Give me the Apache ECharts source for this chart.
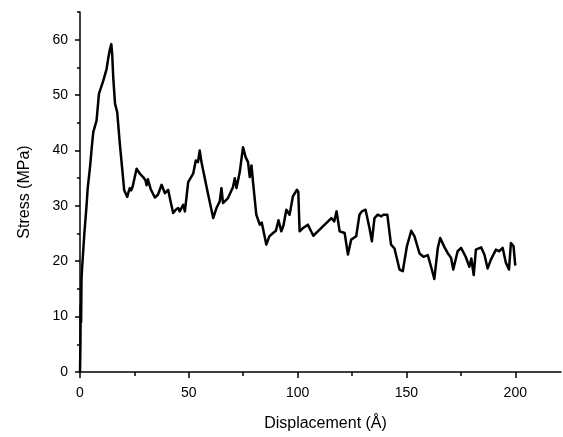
<!DOCTYPE html>
<html>
<head>
<meta charset="utf-8">
<script src="https://cdn.jsdelivr.net/npm/echarts@6/dist/echarts.min.js"></script>
<style>
html,body{margin:0;padding:0;background:#fff;}
#chart{width:563px;height:437px;}
</style>
</head>
<body>
<div id="chart"></div>
<script>
// Displacement (Å)
const displacement = [0,0.2,0.3,0.5,0.7,1,1.5,2,3,3.5,4.6,5.7,6.1,7.6,8.2,8.7,10.7,12.2,13,13.6,14.1,14.4,14.8,15.3,16.1,17.1,18.3,19.6,20.3,21.7,22.3,22.9,23.5,24.2,26,27.5,28.3,29,30.1,30.6,31.2,32.5,34.4,35.8,37.5,39,40.5,41.5,42.8,44,45.1,45.8,46.5,47.4,48.2,49.7,52,53.2,54.2,55,55.8,56.6,58.9,61.2,62.7,64.2,65,65.7,68,70.3,71.1,71.9,73.4,74.9,76.1,77.2,78,78.8,79.5,81,81.8,82.6,83.5,85.6,87,88.7,90,91.2,92.5,93.5,94.8,96.3,97.8,99.7,100.3,100.9,102.5,104.7,105.5,107.2,109.5,111.6,113.5,115.5,116.8,117.9,119.3,121.6,123.1,124.6,126.9,128.4,129.5,130,131.2,133,134.1,135.3,136.8,138.4,139.4,141.2,142.9,144.5,146.8,148.3,150.2,152.2,153.7,156,157.8,159.8,161.3,162.8,164.4,165.5,167.5,168.9,170.5,171.5,173.5,175.1,177.2,178.9,179.8,180.9,181.9,184.3,185.8,187.3,188.8,191.1,192.6,194.2,195.7,197.1,198,199.2,200];
// Stress (MPa)
const stress = [0,5,12,9,17,19,22,25,30,33,37,41.8,43.3,45.4,48,50.2,52.6,54.7,56.7,58,58.8,59.2,57.3,53,48.4,46.9,41.2,35.8,32.8,31.6,32.5,33.2,32.8,33.5,36.7,35.8,35.8,35.2,34.6,33.7,34.8,33,31.5,32,33.8,32.3,32.9,31,28.7,29.3,29.6,29,29.3,30.2,29,34.3,35.8,38.2,37.9,40,37.9,37.6,32,27.8,29.6,30.8,33.2,30.5,31.4,33.4,35,33.2,36.1,40.6,38.8,37.9,35.2,37.3,34.3,28.4,27.5,26.6,27,23,24.5,25.1,25.5,27.4,25.4,26.5,29.3,28.4,31.7,32.9,32.5,25.4,26,26.6,26.3,24.6,25.5,26.3,27,27.8,27.2,29,25.4,25.1,21.2,23.9,24.5,28.4,29,29.2,29.3,26,23.6,27.8,28.4,28.1,28.4,28.4,23,22.3,18.5,18.2,22.7,25.5,24.5,21.4,20.8,21.1,19,16.8,22.4,24.2,22.5,21.5,20.6,18.5,21.8,22.4,20.8,19,20.5,17.5,22.1,22.5,21.2,18.7,20.3,22.1,21.8,22.4,19.7,18.5,23.3,22.7,19.2];
// Tick values
const xTicks = [0,50,100,150,200];
const xMinorTicks = [25,75,125,175];
const yTicks = [0,10,20,30,40,50,60];
const yMinorTicks = [5,15,25,35,45,55,65];

const points = displacement.map((x,i)=>[x, stress[i]]);
const font = '"Liberation Sans", Arial, sans-serif';
const X_MIN = 0, X_MAX = 221, Y_MIN = 0, Y_MAX = 65;

const chart = echarts.init(document.getElementById('chart'), null, {renderer:'canvas'});
const lineStyle = {color:'#000', width:1.5};
chart.setOption({
  animation:false,
  backgroundColor:'#fff',
  grid:{left:80, right:2, top:12, bottom:62, containLabel:false},
  xAxis:[{
    type:'value', min:X_MIN, max:X_MAX,
    name:'Displacement (Å)', nameLocation:'middle', nameGap:44,
    nameTextStyle:{fontFamily:font, fontSize:16, color:'#000', padding:[0,0,0,10]},
    axisLine:{show:true, onZero:false, lineStyle:lineStyle},
    axisTick:{show:true, inside:false, length:6, lineStyle:lineStyle, customValues:xTicks},
    axisLabel:{show:true, margin:14, fontFamily:font, fontSize:14, color:'#000', customValues:xTicks},
    splitLine:{show:false}
  },{
    type:'value', min:X_MIN, max:X_MAX, position:'bottom',
    axisLine:{show:false},
    axisTick:{show:true, inside:false, length:4, lineStyle:lineStyle, customValues:xMinorTicks},
    axisLabel:{show:false},
    splitLine:{show:false}
  }],
  yAxis:[{
    type:'value', min:Y_MIN, max:Y_MAX,
    name:'Stress (MPa)', nameLocation:'middle', nameGap:47,
    nameTextStyle:{fontFamily:font, fontSize:16, color:'#000'},
    axisLine:{show:true, onZero:false, lineStyle:lineStyle},
    axisTick:{show:true, inside:false, length:5, lineStyle:lineStyle, customValues:yTicks},
    axisLabel:{show:true, margin:12, fontFamily:font, fontSize:14, color:'#000', customValues:yTicks},
    splitLine:{show:false}
  },{
    type:'value', min:Y_MIN, max:Y_MAX, position:'left',
    axisLine:{show:false},
    axisTick:{show:true, inside:false, length:3, lineStyle:lineStyle, customValues:yMinorTicks},
    axisLabel:{show:false},
    splitLine:{show:false}
  }],
  series:[{
    type:'line', data:points, xAxisIndex:0, yAxisIndex:0,
    showSymbol:false, symbol:'none', smooth:false,
    lineStyle:{color:'#000', width:2.5, join:'round'}
  }]
});
</script>
</body>
</html>
